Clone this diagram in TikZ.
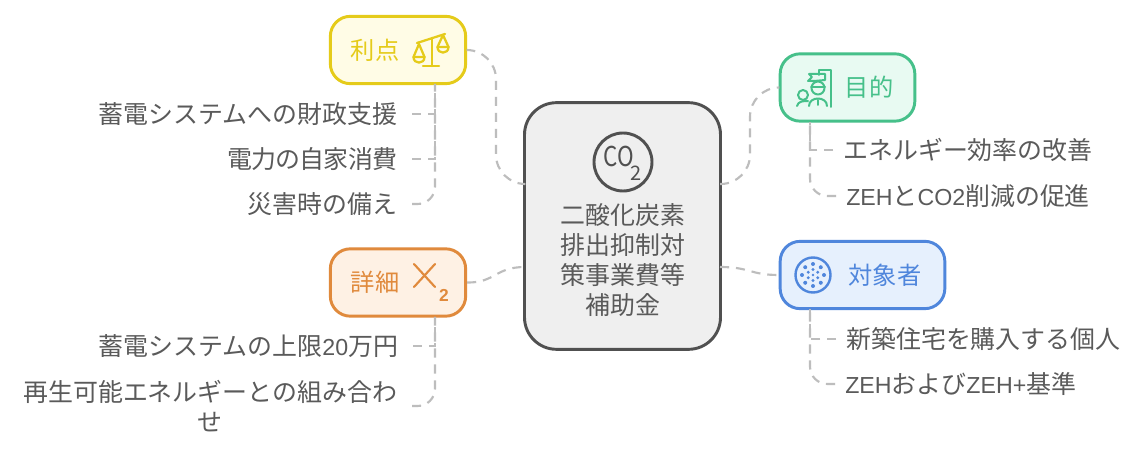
\documentclass[tikz,border=0pt]{standalone}
\usepackage{fontspec}
\setmainfont{Noto Sans CJK JP}
\newfontfamily\lat[Scale=0.93]{Liberation Sans}
\definecolor{ink}{HTML}{5A5A5A}
\definecolor{conn}{HTML}{BDBDBD}
\definecolor{ylw}{HTML}{E5CB1A}\definecolor{ylwf}{HTML}{FFFCE6}
\definecolor{org}{HTML}{E08A3C}\definecolor{orgf}{HTML}{FEF1E4}
\definecolor{grn}{HTML}{46C08A}\definecolor{grnf}{HTML}{E8FAF2}
\definecolor{blu}{HTML}{4F86DC}\definecolor{bluf}{HTML}{E6F0FD}
\definecolor{cgr}{HTML}{505050}\definecolor{cgrf}{HTML}{EFEFEF}
\tikzset{
 x=0.75pt,y=-0.75pt,
 txt/.style={font=\fontsize{18.7pt}{22pt}\selectfont,text=ink,inner sep=0pt,align=center},
 leafl/.style={txt,inner xsep=11pt,inner ysep=0pt},
 leafr/.style={txt,inner xsep=7.5pt,inner ysep=0pt},
 lab/.style={font=\fontsize{18.2pt}{22pt}\selectfont,inner sep=0pt},
 box/.style={draw=#1,line width=2.2pt,rounded corners=15pt,inner sep=0pt},
 dashline/.style={draw=conn,line width=1.6pt,dash pattern=on 6.8pt off 5.2pt},
 link/.style={dashline,rounded corners=22pt},
 twig/.style={dashline},
 twiglast/.style={dashline,rounded corners=13pt},
}
\begin{document}
\begin{tikzpicture}
\useasboundingbox (0,0) rectangle (1140,452);
\fill[white] (0,0) rectangle (1140,452);
% boxes
\node[box=cgr,fill=cgrf,rounded corners=24pt,minimum width=147pt,minimum height=185pt] (hub) at (622.5,226) {};
\node[box=ylw,fill=ylwf,minimum width=101.5pt,minimum height=50.5pt] (adv) at (398,50) {};
\node[box=org,fill=orgf,minimum width=101.5pt,minimum height=50.5pt] (det) at (398,282.5) {};
\node[box=grn,fill=grnf,minimum width=101pt,minimum height=50.5pt] (goal) at (847.5,87.5) {};
\node[box=blu,fill=bluf,minimum width=123.5pt,minimum height=50.5pt] (tgt) at (862.5,275) {};
% labels
\node[lab,text=ylw] (advl) at (375,50) {利点};
\node[lab,text=org] (detl) at (375,282) {詳細};
\node[lab,text=grn] (goall) at (869,87) {目的};
\node[lab,text=blu] (tgtl) at (885,275) {対象者};
\node[txt,text=ink] (hubl) at (623,260) {二酸化炭素\\[0.3pt]排出抑制対\\[0.3pt]策事業費等\\[0.3pt]補助金};
% leaves
\node[leafl,anchor=east] (a1) at (412,114) {蓄電システムへの財政支援};
\node[leafl,anchor=east] (a2) at (412,159) {\addfontfeature{LetterSpace=-3.3}電力の自家消費};
\node[leafl,anchor=east] (a3) at (412,204) {災害時の備え};
\node[leafl,anchor=east] (d1) at (413,346) {蓄電システムの上限{\lat 20}万円};
\node[leafl,anchor=east] (d2) at (412,406) {再生可能エネルギーとの組み合わ\\せ};
\node[leafr,anchor=west] (g1) at (833,150) {エネルギー効率の改善};
\node[leafr,anchor=west] (g2) at (836,196) {{\lat ZEH}と{\lat CO2}削減の促進};
\node[leafr,anchor=west] (t1) at (836,339) {新築住宅を購入する個人};
\node[leafr,anchor=west] (t2) at (835,384) {{\lat ZEH}および{\lat ZEH+}基準};
% connectors hub
\coordinate (hubnw) at (525,184); \coordinate (hubne) at (720,184);
\coordinate (hubsw) at (525,267); \coordinate (hubse) at (720,267);
\path[link] (adv.east) -| (496,184) -- (hubnw);
\path[link] (hubne) -| (750,87.5) -- (goal.west);
\draw[dashline] (det.east) .. controls (495,283) and (495,267) .. (hubsw);
\draw[dashline] (hubse) .. controls (750,267) and (750,275) .. (tgt.west);
% twigs
\coordinate (advb) at (435,84); \coordinate (detb) at (435,317);
\coordinate (goalb) at (810,122); \coordinate (tgtb) at (810,309);
\path[twig] (a1.east) -| (advb);
\path[twig] (a2.east) -| (advb);
\path[twiglast] (a3.east) -| (advb);
\path[twig] (d1.east) -| (detb);
\path[twiglast] (d2.east) -| (detb);
\path[twig] (g1.west) -| (goalb);
\path[twiglast] (g2.west) -| (goalb);
\path[twig] (t1.west) -| (tgtb);
\path[twiglast] (t2.west) -| (tgtb);
% icon: scales
\begin{scope}[draw=ylw,line width=1.7pt,line cap=round,line join=round]
\draw (417,43) -- (445,34);
\draw (432,38) -- (432,66); \draw (423,66) -- (439,66);
\draw (413.5,57) -- (419,44) -- (424.5,57);
\draw (437.5,47) -- (443,35) -- (448.5,47);
\draw (413.5,57) -- (424.5,57) .. controls (424.5,64.5) and (413.5,64.5) .. (413.5,57);
\draw (437.5,47) -- (448.5,47) .. controls (448.5,54.5) and (437.5,54.5) .. (437.5,47);
\end{scope}
% icon: X2
\draw[org,line width=1.6pt,line cap=round] (414,264) -- (435,287) (435,264) -- (414,287);
\node[inner sep=0pt,text=org,font=\lat\bfseries\fontsize{14pt}{14pt}\selectfont] (x2) at (444,295) {2};
% icon: goal
\begin{scope}[draw=grn,line width=1.5pt,line cap=round,line join=round]
\draw (831,107) -- (831,70) -- (819,70) -- (819,75);
\draw (809,74) -- (825,74) -- (825,80) -- (814,81) -- (808,81) -- (812,77) -- cycle;
\draw (818,88) circle (6.5);
\draw (811,87) -- (825,87);
\draw (809,106) .. controls (809,96) and (827,96) .. (827,106);
\draw (803,95) circle (5);
\draw (797,106) .. controls (798,101) and (804,101) .. (808,101);
\draw (818,100) -- (818,105);
\end{scope}
% icon: target
\draw[blu,line width=1.8pt] (813,275) circle (17.5);
\foreach \a in {0,45,...,315}
  \fill[blu] ({813+11*cos(\a)},{275+11*sin(\a)}) circle (2);
\foreach \a in {30,90,...,330}
  \fill[blu] ({813+5.5*cos(\a)},{275+5.5*sin(\a)}) circle (1.7);
\fill[blu] (813,275) circle (1.4);
% icon: CO2
\draw[cgr,line width=2.2pt] (623,162) circle (29);
\node[inner sep=0pt,text=cgr,xscale=0.82,font=\fontsize{20.5pt}{20.5pt}\selectfont] (co) at (618.5,156) {CO};
\node[inner sep=0pt,text=cgr,font=\fontsize{15pt}{15pt}\selectfont] (two) at (636.5,173.5) {2};
\end{tikzpicture}
\end{document}
